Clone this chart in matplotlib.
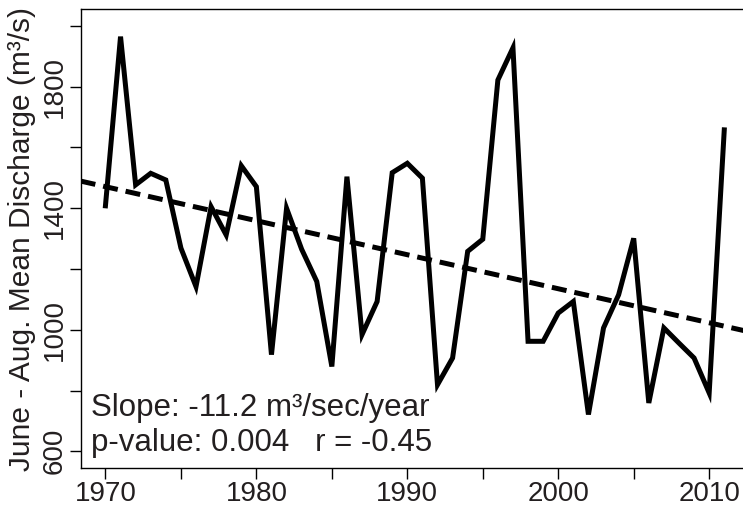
import numpy as np
import matplotlib
matplotlib.use("Agg")
from matplotlib import pyplot as plt

# %% datos
years = np.arange(1970, 2012)
discharge = [1408, 1965, 1477, 1515, 1493, 1269, 1142, 1405, 1312, 1540,
             1471, 918, 1400, 1265, 1159, 879, 1504, 984, 1093, 1517,
             1548, 1499, 819, 907, 1258, 1298, 1822, 1928, 962, 962,
             1055, 1093, 721, 1006, 1115, 1301, 759, 1006, 956, 907,
             792, 1658]

trend_slope = -11.2
trend_year = 1990
trend_value = 1247

slope_txt = "Slope: -11.2 m³/sec/year"
stats_txt = "p-value: 0.004   r = -0.45"

x_ticks = np.arange(1970, 2011, 5)
x_labels = ["1970", "", "1980", "", "1990", "", "2000", "", "2010"]
y_ticks = np.arange(600, 2001, 200)
y_labels = ["600", "", "1000", "", "1400", "", "1800", ""]

txt_color = "#231f20"

# %% figura
plt.rcParams['font.family'] = ['Liberation Sans', 'DejaVu Sans']

fig = plt.figure(figsize=(7.43, 5.09), dpi=100)
ax = fig.add_axes([0.1086, 0.08, 0.8995, 0.9024])

ax.plot(years, discharge, color="black", lw=3.6, solid_joinstyle="miter")
ax.axline((trend_year, trend_value), slope=trend_slope, color="black", lw=3.6,
          linestyle=(0, (3.0, 1.6)), dash_capstyle="butt")

ax.set_xlim(1968.36, 2012.64)
ax.set_ylim(544, 2056)

ax.set_xticks(x_ticks)
ax.set_xticklabels(x_labels)
ax.set_yticks(y_ticks)
ax.set_yticklabels(y_labels, rotation=90, va="center")

ax.tick_params(axis="both", direction="out", length=8.0, width=1.0,
               labelsize=20, labelcolor=txt_color)
ax.tick_params(axis="x", pad=1.5)
ax.tick_params(axis="y", pad=1.5)

for s in ax.spines.values():
    s.set_linewidth(1.0)

ax.set_ylabel("June - Aug. Mean Discharge (m³/s)", fontsize=21.5, labelpad=4,
              color=txt_color)

ax.text(1969.05, 715, slope_txt, fontsize=22.5, va="baseline", ha="left",
        color=txt_color)
ax.text(1969.05, 600, stats_txt, fontsize=22.5, va="baseline", ha="left",
        color=txt_color)

fig.savefig("out.png", dpi=100)
